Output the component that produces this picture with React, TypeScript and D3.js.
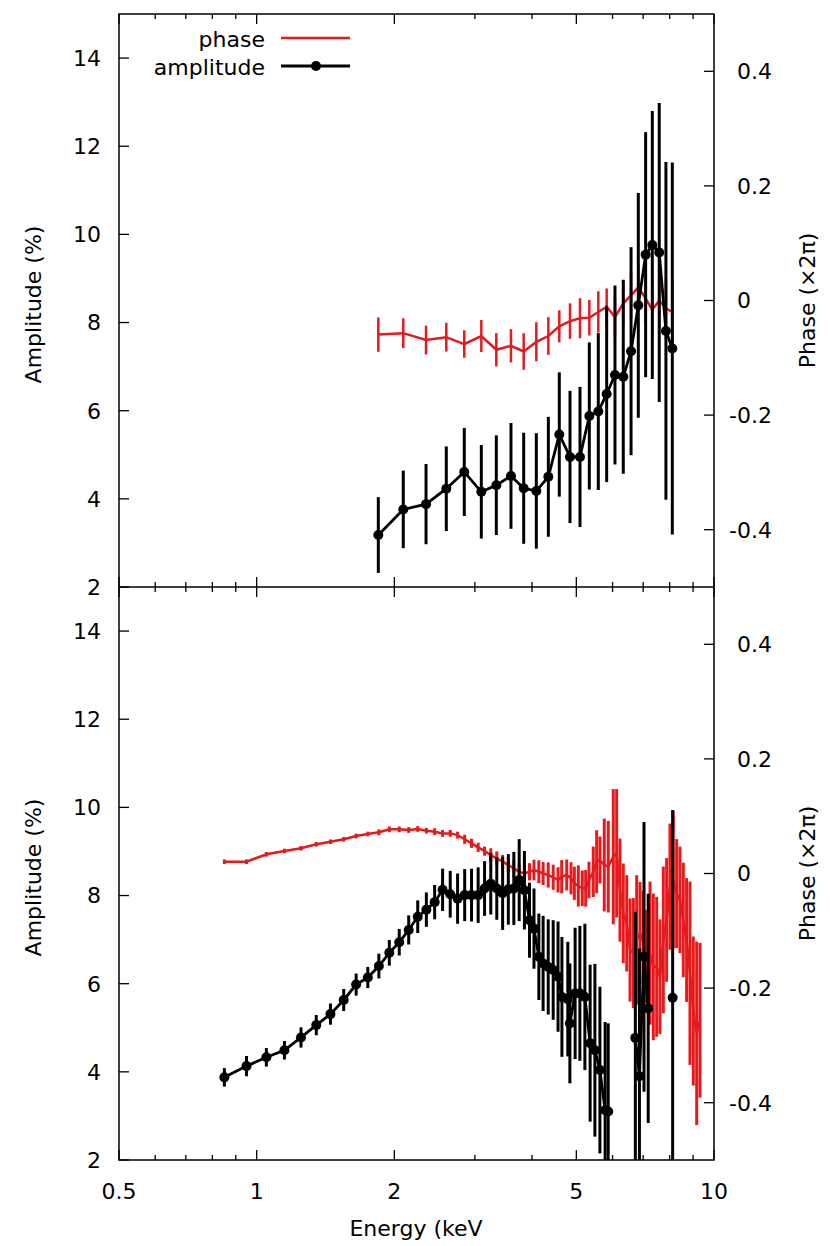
import React from 'react';
import * as d3 from 'd3';

// upper panel: shared energies for both series
const topEnergy = [1.845, 2.092, 2.346, 2.598, 2.844, 3.099, 3.342, 3.598, 3.836, 4.088, 4.343, 4.589, 4.843,
  5.093, 5.338, 5.585, 5.825, 6.074, 6.333, 6.586, 6.831, 7.088, 7.33, 7.59, 7.85, 8.107];
const topAmplitude = [3.18, 3.76, 3.88, 4.23, 4.61, 4.16, 4.31, 4.52, 4.24, 4.18, 4.5, 5.46, 4.95,
  4.95, 5.88, 5.98, 6.38, 6.81, 6.77, 7.35, 8.39, 9.54, 9.76, 9.59, 7.81, 7.41];
const topAmplitudeErr = [0.86, 0.88, 0.91, 0.96, 1.0, 1.06, 1.13, 1.2, 1.26, 1.31, 1.36, 1.41, 1.5,
  1.59, 1.67, 1.78, 2.0, 2.03, 2.2, 2.36, 2.55, 2.78, 3.04, 3.39, 3.83, 4.22];
const topPhase = [-0.0595, -0.057, -0.069, -0.064, -0.076, -0.062, -0.086, -0.079, -0.089, -0.072, -0.062, -0.045, -0.036,
  -0.031, -0.03, -0.02, -0.011, -0.029, -0.005, 0.009, 0.023, 0.0035, -0.016, 0.0, -0.014, -0.02];
const topPhaseErr = [0.03, 0.026, 0.025, 0.025, 0.024, 0.028, 0.029, 0.029, 0.032, 0.034, 0.033, 0.028, 0.031,
  0.035, 0.031, 0.036, 0.032, 0.035, 0.038, 0.04, 0.042, 0.045, 0.048, 0.05, 0.052, 0.055];

// lower panel amplitude (null = point outside the plotted range, line broken there)
const botAmpEnergy = [0.85, 0.95, 1.05, 1.15, 1.25, 1.35, 1.45, 1.55, 1.65, 1.75,
  1.85, 1.95, 2.05, 2.15, 2.25, 2.35, 2.45, 2.55, 2.65, 2.75,
  2.85, 2.95, 3.05, 3.15, 3.25, 3.35, 3.45, 3.55, 3.65, 3.75,
  3.85, 3.95, 4.04, 4.14, 4.23, 4.34, 4.45, 4.56, 4.65, 4.79,
  4.84, 4.97, 5.09, 5.22, 5.36, 5.49, 5.63, 5.78, 5.87, 6.0,
  6.73, 6.87, 7.03, 7.18, 7.6, 8.12];
const botAmplitude: (number | null)[] = [3.875, 4.13, 4.33, 4.49, 4.78, 5.06, 5.31, 5.63, 5.98, 6.14,
  6.4, 6.7, 6.94, 7.22, 7.52, 7.68, 7.85, 8.13, 8.03, 7.93,
  8.01, 8.01, 8.01, 8.16, 8.27, 8.16, 8.05, 8.14, 8.16, 8.35,
  8.12, 7.44, 7.25, 6.61, 6.46, 6.38, 6.31, 6.16, 5.7, 5.65,
  5.1, 5.78, 5.78, 5.7, 4.65, 4.49, 4.04, 3.13, 3.1, null,
  4.77, 3.9, 6.61, 5.44, null, 5.68];
const botAmplitudeErr = [0.21, 0.23, 0.21, 0.21, 0.23, 0.23, 0.24, 0.25, 0.25, 0.24,
  0.28, 0.29, 0.3, 0.33, 0.37, 0.39, 0.39, 0.48, 0.53, 0.57,
  0.59, 0.6, 0.63, 0.62, 0.7, 0.71, 0.83, 0.8, 0.83, 0.93,
  0.89, 0.85, 0.91, 0.98, 1.08, 1.08, 1.13, 1.25, 1.36, 1.3,
  1.36, 1.49, 1.53, 1.66, 1.78, 1.96, 1.89, 2.0, 2.0, 0,
  2.86, 2.9, 3.06, 2.6, 0, 4.26];

// lower panel phase
const botPhaseEnergy = [0.85, 0.95, 1.05, 1.15, 1.25, 1.35, 1.45, 1.55, 1.65, 1.75,
  1.85, 1.95, 2.05, 2.15, 2.25, 2.35, 2.45, 2.55, 2.65, 2.75,
  2.85, 2.95, 3.05, 3.15, 3.25, 3.35, 3.45, 3.55, 3.65, 3.75,
  3.85, 3.95, 4.04, 4.14, 4.23, 4.34, 4.45, 4.56,
  4.645, 4.764, 4.868, 4.95, 5.05, 5.152, 5.241, 5.329, 5.445, 5.539,
  5.632, 5.755, 5.872, 6.022, 6.126, 6.229, 6.333, 6.445, 6.553, 6.663,
  6.776, 6.89, 7.005, 7.126, 7.246, 7.367, 7.494, 7.619, 7.747, 7.879,
  8.011, 8.147, 8.286, 8.425, 8.566, 8.712, 8.861, 9.01, 9.166, 9.32];
const botPhase = [0.0206, 0.0206, 0.0335, 0.0393, 0.044, 0.051, 0.0555, 0.0597, 0.0654, 0.069,
  0.0719, 0.0771, 0.0771, 0.0759, 0.0777, 0.0747, 0.073, 0.07, 0.07, 0.067,
  0.0597, 0.0527, 0.0457, 0.039, 0.032, 0.0265, 0.0206, 0.0148, 0.009, 0.003,
  0.0003, 0.003, 0.006, 0.003, 0.0, -0.0026, -0.0066, -0.011,
  -0.0056, -0.0026, -0.0084, -0.0171, -0.0218, -0.0258, -0.0258, -0.0113, 0.003, 0.0206,
  0.0236, 0.0148, 0.0119, 0.0293, 0.0353, -0.029, -0.0695, -0.087, -0.1335, -0.139,
  -0.116, -0.104, -0.12, -0.145, -0.139, -0.163, -0.163, -0.18, -0.116, -0.081,
  -0.023, -0.011, -0.035, -0.046, -0.081, -0.116, -0.174, -0.24, -0.279, -0.256];
const botPhaseErr = [0.004, 0.004, 0.004, 0.004, 0.004, 0.004, 0.004, 0.004, 0.004, 0.004,
  0.005, 0.005, 0.005, 0.005, 0.005, 0.005, 0.006, 0.006, 0.006, 0.006,
  0.008, 0.008, 0.008, 0.008, 0.012, 0.012, 0.012, 0.012, 0.015, 0.015,
  0.015, 0.015, 0.018, 0.02, 0.02, 0.022, 0.022, 0.022,
  0.029, 0.027, 0.028, 0.029, 0.036, 0.031, 0.032, 0.032, 0.044, 0.055,
  0.041, 0.081, 0.08, 0.118, 0.112, 0.09, 0.087, 0.084, 0.09, 0.096,
  0.113, 0.089, 0.09, 0.081, 0.125, 0.128, 0.122, 0.1, 0.128, 0.108,
  0.11, 0.12, 0.095, 0.093, 0.1, 0.108, 0.16, 0.13, 0.16, 0.135];

const xMajorTicks = [0.5, 1, 2, 5, 10];
const xMinorTicks = [0.6, 0.7, 0.8, 0.9, 3, 4, 6, 7, 8, 9];
const ampTicks = [2, 4, 6, 8, 10, 12, 14];
const phaseTicks = [-0.4, -0.2, 0, 0.2, 0.4];

const RED = '#e41a1c';
const FONT = 'DejaVu Sans, sans-serif';
const FS = 22;
const left = 119;
const right = 714;

const x = d3.scaleLog().domain([0.5, 10]).range([left, right]);

type PanelProps = {
  top: number; bottom: number; id: string;
  ampE: number[]; amp: (number | null)[]; ampErr: number[];
  phE: number[]; ph: number[]; phErr: number[];
  redW: number;
};

const Panel = ({ top, bottom, id, ampE, amp, ampErr, phE, ph, phErr, redW }: PanelProps) => {
  const yA = d3.scaleLinear().domain([2, 15]).range([bottom, top]);
  const yP = d3.scaleLinear().domain([-0.5, 0.5]).range([bottom, top]);
  const ampLine = d3.line<number | null>()
    .defined(d => d !== null)
    .x((_, i) => x(ampE[i]))
    .y(d => yA(d as number));
  const phLine = d3.line<number>().x((_, i) => x(phE[i])).y(d => yP(d));
  const mid = (top + bottom) / 2;
  return (
    <g>
      <defs>
        <clipPath id={id}>
          <rect x={left} y={top} width={right - left} height={bottom - top} />
        </clipPath>
      </defs>
      <g clipPath={`url(#${id})`}>
        {ph.map((v, i) => (
          <line key={'pe' + i} x1={x(phE[i])} x2={x(phE[i])} y1={yP(v - phErr[i])} y2={yP(v + phErr[i])}
            stroke={RED} strokeWidth={redW} />
        ))}
        <path d={phLine(ph) || ''} fill="none" stroke={RED} strokeWidth={2.5} />
        {amp.map((v, i) => v === null ? null : (
          <line key={'ae' + i} x1={x(ampE[i])} x2={x(ampE[i])} y1={yA(v - ampErr[i])} y2={yA(v + ampErr[i])}
            stroke="#000" strokeWidth={3} />
        ))}
        <path d={ampLine(amp) || ''} fill="none" stroke="#000" strokeWidth={2.8} />
        {amp.map((v, i) => v === null ? null : (
          <circle key={'ap' + i} cx={x(ampE[i])} cy={yA(v)} r={5} fill="#000" />
        ))}
      </g>
      {xMajorTicks.map(t => (
        <g key={'xm' + t}>
          <line x1={x(t)} x2={x(t)} y1={bottom} y2={bottom - 10} stroke="#000" strokeWidth={1.3} />
          <line x1={x(t)} x2={x(t)} y1={top} y2={top + 10} stroke="#000" strokeWidth={1.3} />
        </g>
      ))}
      {xMinorTicks.map(t => (
        <g key={'xn' + t}>
          <line x1={x(t)} x2={x(t)} y1={bottom} y2={bottom - 5} stroke="#000" strokeWidth={1.3} />
          <line x1={x(t)} x2={x(t)} y1={top} y2={top + 5} stroke="#000" strokeWidth={1.3} />
        </g>
      ))}
      {ampTicks.map(t => (
        <g key={'ya' + t}>
          <line x1={left} x2={left + 10} y1={yA(t)} y2={yA(t)} stroke="#000" strokeWidth={1.3} />
          <text x={101} y={yA(t)} dy="0.36em" textAnchor="end" fontSize={FS} fontFamily={FONT}>{t}</text>
        </g>
      ))}
      {phaseTicks.map(t => (
        <g key={'yp' + t}>
          <line x1={right} x2={right - 10} y1={yP(t)} y2={yP(t)} stroke="#000" strokeWidth={1.3} />
          <text x={t < 0 ? 729 : 737} y={yP(t)} dy="0.36em" textAnchor="start" fontSize={FS} fontFamily={FONT}>
            {t === 0 ? '0' : d3.format('.1f')(t).replace('−', '-')}
          </text>
        </g>
      ))}
      <text transform={`translate(41,${mid + 4}) rotate(-90)`} textAnchor="middle" fontSize={FS} fontFamily={FONT}>
        Amplitude (%)
      </text>
      <text transform={`translate(815,${mid}) rotate(-90)`} textAnchor="middle" fontSize={FS} fontFamily={FONT}>
        Phase (×2π)
      </text>
    </g>
  );
};

export default function App() {
  return (
    <svg width={830} height={1246} style={{ position: 'absolute', left: 0, top: 0, background: '#fff' }}>
      <rect x={0} y={0} width={830} height={1246} fill="#fff" />
      <Panel top={14} bottom={587} id="clipTop"
        ampE={topEnergy} amp={topAmplitude} ampErr={topAmplitudeErr}
        phE={topEnergy} ph={topPhase} phErr={topPhaseErr} redW={2.5} />
      <Panel top={587} bottom={1160} id="clipBot"
        ampE={botAmpEnergy} amp={botAmplitude} ampErr={botAmplitudeErr}
        phE={botPhaseEnergy} ph={botPhase} phErr={botPhaseErr} redW={3} />
      <rect x={left} y={14} width={right - left} height={1146} fill="none" stroke="#000" strokeWidth={1.5} />
      <line x1={left} x2={right} y1={587} y2={587} stroke="#000" strokeWidth={1.5} />
      {xMajorTicks.map(t => (
        <text key={'xl' + t} x={x(t)} y={1191} dy="0.36em" textAnchor="middle" fontSize={FS} fontFamily={FONT}>{t}</text>
      ))}
      <text x={416} y={1228} dy="0.36em" textAnchor="middle" fontSize={FS} fontFamily={FONT}>Energy (keV</text>
      {/* legend */}
      <text x={265} y={39} dy="0.36em" textAnchor="end" fontSize={FS} fontFamily={FONT}>phase</text>
      <line x1={281} x2={350} y1={38} y2={38} stroke={RED} strokeWidth={2.5} />
      <text x={265} y={67} dy="0.36em" textAnchor="end" fontSize={FS} fontFamily={FONT}>amplitude</text>
      <line x1={281} x2={350} y1={66} y2={66} stroke="#000" strokeWidth={2.8} />
      <circle cx={316} cy={66} r={5} fill="#000" />
    </svg>
  );
}
